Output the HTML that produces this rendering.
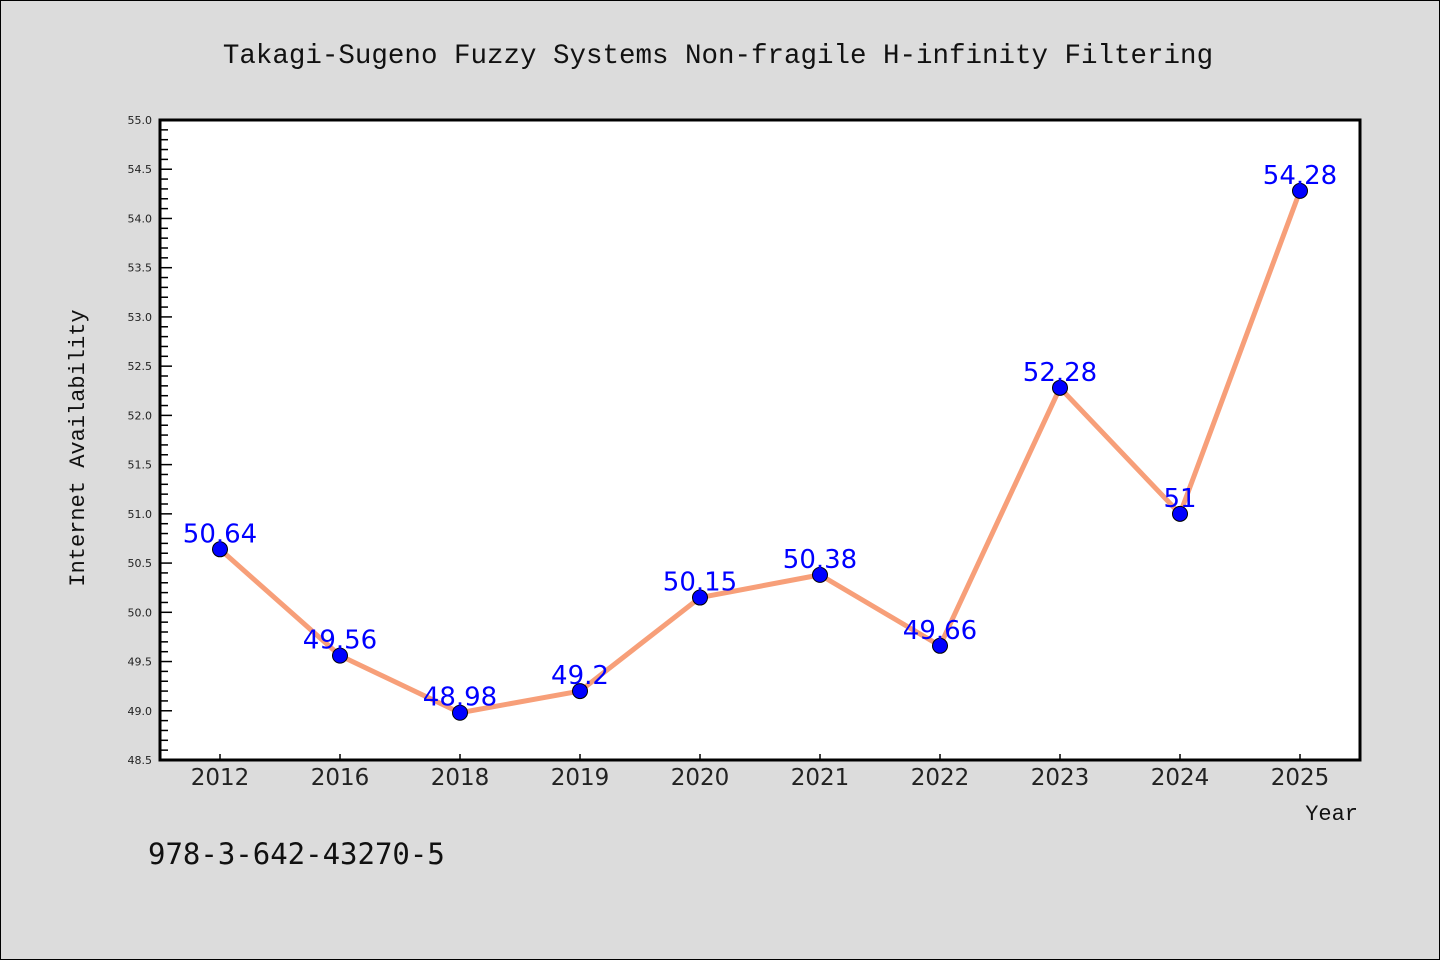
<!DOCTYPE html>
<html><head><meta charset="utf-8"><style>
body{margin:0;background:#dcdcdc;}
svg{display:block;font-family:"Liberation Mono",monospace;}
</style></head><body>
<svg id="c" width="1440" height="960">
<rect x="0.5" y="0.5" width="1439" height="959" fill="#dcdcdc" stroke="#000"/>
<text x="718" y="63" font-size="27.5" text-anchor="middle" fill="#111">Takagi-Sugeno Fuzzy Systems Non-fragile H-infinity Filtering</text>
<rect x="160" y="120" width="1200" height="640" fill="#fff"/>
<g id="yticks"></g><g id="xticks"></g>
<rect x="160" y="120" width="1200" height="640" fill="none" stroke="#000" stroke-width="3"/>
<g id="series"></g>
<text x="84" y="448" font-size="22" text-anchor="middle" fill="#111" transform="rotate(-90 84 448)">Internet Availability</text>
<text x="1358" y="820" font-size="22" text-anchor="end" fill="#111">Year</text>
<text x="148" y="864" font-size="29" fill="#111" font-family="DejaVu Sans Mono, monospace">978-3-642-43270-5</text>
</svg>
<script>
const categories=["2012","2016","2018","2019","2020","2021","2022","2023","2024","2025"];
const values=[50.64,49.56,48.98,49.2,50.15,50.38,49.66,52.28,51,54.28];
const valueLabels=["50.64","49.56","48.98","49.2","50.15","50.38","49.66","52.28","51","54.28"];
const yTickLabels=["48.5","49.0","49.5","50.0","50.5","51.0","51.5","52.0","52.5","53.0","53.5","54.0","54.5","55.0"];
const NS="http://www.w3.org/2000/svg";
const x0=160,x1=1360,y0=760,y1=120,ymin=48.5,ymax=55;
const xs=i=>x0+(x1-x0)/categories.length*(i+0.5);
const ys=v=>y0-(v-ymin)/(ymax-ymin)*(y0-y1);
function mk(t,a,p){const e=document.createElementNS(NS,t);for(const k in a)e.setAttribute(k,a[k]);p.appendChild(e);return e;}
const yt=document.getElementById('yticks');
for(let k=0;k<=65;k++){const v=ymin+k*0.1;const y=ys(v);const major=k%5===0;
 const l=mk('line',{x1:x0,x2:x0+(major?12:8),y1:y,y2:y,stroke:'#000','stroke-width':1.5},yt);
 
 }
yTickLabels.forEach(s=>{const t=mk('text',{x:152,y:ys(parseFloat(s))+4,'font-size':11,'text-anchor':'end',fill:'#222','font-family':'DejaVu Sans, sans-serif'},yt);t.textContent=s;
 
 });
const xt=document.getElementById('xticks');
categories.forEach((c,i)=>{const l=mk('line',{x1:xs(i),x2:xs(i),y1:y0,y2:y0-6,stroke:'#000','stroke-width':1.5},xt);
 
 
 const t=mk('text',{x:xs(i),y:785,'font-size':23,'text-anchor':'middle',fill:'#222','font-family':'DejaVu Sans, sans-serif'},xt);t.textContent=c;
 
 });
const g=document.getElementById('series');
const pl=mk('polyline',{points:values.map((v,i)=>xs(i)+','+ys(v)).join(' '),fill:'none',stroke:'#f79f79','stroke-width':5,'stroke-linejoin':'round'},g);


values.forEach((v,i)=>{const c=mk('circle',{cx:xs(i),cy:ys(v),r:7.5,fill:'#0000ff',stroke:'#000','stroke-width':1},g);
 
 
 const t=mk('text',{x:xs(i),y:ys(v)-7,'font-size':26,'text-anchor':'middle',fill:'#0000ff','font-family':'DejaVu Sans, sans-serif'},g);t.textContent=valueLabels[i];
 
 });
</script>
</body></html>
